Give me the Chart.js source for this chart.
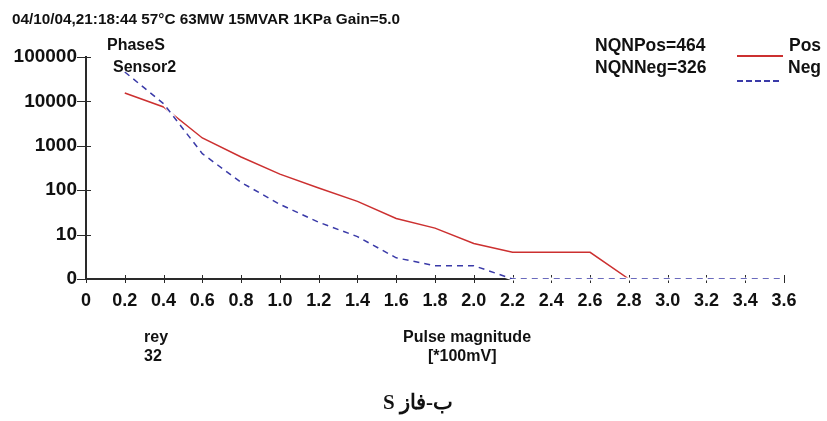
<!DOCTYPE html>
<html>
<head>
<meta charset="utf-8">
<script src="https://cdn.jsdelivr.net/npm/chart.js@4.4.1/dist/chart.umd.min.js"></script>
<style>
  html, body { margin: 0; padding: 0; background: #fff; }
  #wrap { position: relative; width: 827px; height: 421px; overflow: hidden; }
  canvas { position: absolute; left: 0; top: 0; }
  .t { position: absolute; font-family: "Liberation Sans", Arial, sans-serif; font-weight: bold;
       font-size: 16px; color: #111; white-space: nowrap; line-height: 1; }
  .ln { position: absolute; height: 0; }
</style>
</head>
<body>
<div id="wrap">
  <canvas id="chart" width="827" height="421"></canvas>
  <div class="t" style="left:12px;top:11px;font-size:15.3px;">04/10/04,21:18:44 57°C 63MW 15MVAR 1KPa Gain=5.0</div>
  <div class="t" style="left:107px;top:37px;">PhaseS</div>
  <div class="t" style="left:113px;top:59px;">Sensor2</div>
  <div class="t" style="left:595px;top:37px;font-size:17.5px;">NQNPos=464</div>
  <div class="t" style="left:595px;top:59px;font-size:17.5px;">NQNNeg=326</div>
  <div class="ln" style="left:737px;top:55px;width:46px;border-top:2px solid #cc3030;"></div>
  <div class="ln" style="left:737px;top:80px;width:42px;border-top:2px dashed #3a3aa8;"></div>
  <div class="t" style="left:789px;top:37px;font-size:17.5px;">Pos</div>
  <div class="t" style="left:788px;top:59px;font-size:17.5px;">Neg</div>
  <div class="t" style="left:144px;top:329px;">rey</div>
  <div class="t" style="left:144px;top:348px;">32</div>
  <div class="t" style="left:403px;top:329px;">Pulse magnitude</div>
  <div class="t" style="left:428px;top:348px;">[*100mV]</div>
  <div class="t" dir="rtl" style="left:318px;width:200px;text-align:center;top:392px;font-family:'Liberation Serif','DejaVu Serif',serif;font-size:21px;">ب-فاز S</div>
</div>
<script>
// pulse magnitude (*100mV)
const magnitudes = [0.2, 0.4, 0.6, 0.8, 1.0, 1.2, 1.4, 1.6, 1.8, 2.0, 2.2, 2.4, 2.6, 2.8, 3.0, 3.2, 3.4, 3.6];
// counts; a count of 0 sits on the "0" line (value 1)
const posCounts = [15500, 7500, 1500, 560, 230, 112, 56, 23, 14, 6.3, 4, 4, 4, 0];
const negCounts = [46000, 8900, 665, 150, 48, 19, 9, 3, 2, 2, 0, 0, 0, 0, 0, 0, 0, 0];

const xTicks = [0, 0.2, 0.4, 0.6, 0.8, 1.0, 1.2, 1.4, 1.6, 1.8, 2.0, 2.2, 2.4, 2.6, 2.8, 3.0, 3.2, 3.4, 3.6];
const xTickLabels = ['0', '0.2', '0.4', '0.6', '0.8', '1.0', '1.2', '1.4', '1.6', '1.8', '2.0', '2.2', '2.4', '2.6', '2.8', '3.0', '3.2', '3.4', '3.6'];
const yTicks = [1, 10, 100, 1000, 10000, 100000];
const yTickLabels = ['0', '10', '100', '1000', '10000', '100000'];

const toPoints = counts => counts.map((c, i) => ({ x: magnitudes[i], y: c > 0 ? c : 1 }));

const axisColor = '#2a2a2a';
const labelFont = size => ({ family: '"Liberation Sans", Arial, sans-serif', weight: 'bold', size: size });

// tick marks that cross the axis lines, and a white backing under the dashed Neg line
const axisMarks = {
    id: 'axisMarks',
    beforeDatasetsDraw(chart) {
        const { ctx, scales: { x, y } } = chart;
        const ax = x.getPixelForValue(0);
        const ay = y.getPixelForValue(1);
        ctx.save();
        ctx.strokeStyle = axisColor;
        ctx.lineWidth = 1;
        xTicks.forEach(v => {
            const px = Math.round(x.getPixelForValue(v)) + 0.5;
            ctx.beginPath(); ctx.moveTo(px, ay - 4); ctx.lineTo(px, ay + 4); ctx.stroke();
        });
        yTicks.forEach(v => {
            const py = Math.round(y.getPixelForValue(v)) + 0.5;
            ctx.beginPath(); ctx.moveTo(ax - 9, py); ctx.lineTo(ax + 5, py); ctx.stroke();
        });
        ctx.restore();
    },
    beforeDatasetDraw(chart, args) {
        if (args.index !== 1) return;
        const { ctx } = chart;
        const pts = args.meta.data;
        ctx.save();
        ctx.strokeStyle = '#fff';
        ctx.lineWidth = 3;
        ctx.beginPath();
        pts.forEach((p, i) => (i ? ctx.lineTo(p.x, p.y) : ctx.moveTo(p.x, p.y)));
        ctx.stroke();
        ctx.restore();
    }
};

const ctx = document.getElementById('chart').getContext('2d');
const chart = new Chart(ctx, {
    type: 'line',
    data: {
        datasets: [{
            label: 'Pos',
            data: toPoints(posCounts),
            borderColor: '#cc3030',
            borderWidth: 1.5,
            pointRadius: 0,
            tension: 0,
            order: 2
        }, {
            label: 'Neg',
            data: toPoints(negCounts),
            borderColor: '#3a3aa8',
            borderWidth: 1.5,
            borderDash: [6, 5],
            pointRadius: 0,
            tension: 0,
            order: 1
        }]
    },
    options: {
        responsive: false,
        animation: false,
        layout: { padding: { left: 0, top: 57, right: 43, bottom: 0 } },
        plugins: { legend: { display: false }, tooltip: { enabled: false } },
        scales: {
            x: {
                type: 'linear',
                min: 0,
                max: 3.6,
                afterBuildTicks: s => { s.ticks = xTicks.map(v => ({ value: v })); },
                afterFit: s => { s.height = 142; },
                ticks: {
                    callback: (v, i) => xTickLabels[i],
                    color: '#111',
                    font: labelFont(18),
                    padding: 11,
                    maxRotation: 0,
                    autoSkip: false
                },
                grid: { display: true, drawOnChartArea: false, drawTicks: false },
                border: { color: axisColor, width: 2 }
            },
            y: {
                type: 'logarithmic',
                min: 1,
                max: 100000,
                afterBuildTicks: s => { s.ticks = yTicks.map(v => ({ value: v })); },
                afterFit: s => { s.width = 86; },
                ticks: {
                    callback: (v, i) => yTickLabels[i],
                    color: '#111',
                    font: labelFont(19),
                    padding: 9,
                    autoSkip: false
                },
                grid: { display: true, drawOnChartArea: false, drawTicks: false },
                border: { color: axisColor, width: 2 }
            }
        }
    },
    plugins: [axisMarks]
});
</script>
</body>
</html>
